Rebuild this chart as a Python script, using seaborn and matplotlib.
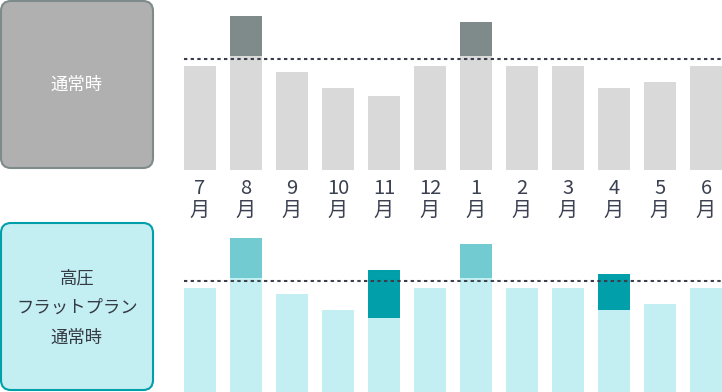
import matplotlib
matplotlib.use("Agg")
import matplotlib.pyplot as plt
from matplotlib.patches import FancyBboxPatch
import seaborn as sns
import pandas as pd

# ---- data ----
months = ["7", "8", "9", "10", "11", "12", "1", "2", "3", "4", "5", "6"]
top_base = [104, 114, 98, 82, 74, 104, 114, 104, 104, 82, 88, 104]
top_peak = [0, 154, 0, 0, 0, 0, 148, 0, 0, 0, 0, 0]
bot_base = [104, 114, 98, 82, 74, 104, 114, 104, 104, 82, 88, 104]
bot_peak = [0, 154, 0, 0, 0, 0, 148, 0, 0, 0, 0, 0]
bot_shift = [0, 0, 0, 0, 122, 0, 0, 0, 0, 118, 0, 0]
threshold_top = 111
threshold_bot = 111
top_label = "通常時"
bot_label = ["高圧", "フラットプラン", "通常時"]

sns.set_theme(style="white")
plt.rcParams["font.family"] = ["Noto Sans CJK JP", "DejaVu Sans"]

W, H = 722, 392
fig = plt.figure(figsize=(W / 100, H / 100), dpi=100)

# overlay axes in pixel units for the side panels
ov = fig.add_axes([0, 0, 1, 1])
ov.set_xlim(0, W)
ov.set_ylim(H, 0)
ov.axis("off")

ov.add_patch(FancyBboxPatch((1, 1), 152, 167, boxstyle="round,pad=0,rounding_size=10",
                            facecolor="#b0b0b0", edgecolor="#7f8a8a", linewidth=1.5))
ov.text(77, 85, top_label, ha="center", va="center", color="white", fontsize=12.5)

ov.add_patch(FancyBboxPatch((1, 223), 152, 167, boxstyle="round,pad=0,rounding_size=10",
                            facecolor="#c4eff2", edgecolor="#00a0aa", linewidth=1.5))
for k, line in enumerate(bot_label):
    ov.text(77, 278 + 30 * k, line, ha="center", va="center", color="#343a44", fontsize=12.5)

bar_w = 32 / 46
first_center, pitch = 200, 46
x0 = -first_center / pitch
x1 = (W - first_center) / pitch

df_top = pd.DataFrame({"month": months, "base": top_base, "peak": top_peak})
df_bot = pd.DataFrame({"month": months, "base": bot_base, "peak": bot_peak, "shift": bot_shift})

def setup(ax):
    ax.set_xlim(x0, x1)
    ax.set_ylim(0, 170)
    ax.axis("off")
    ax.patch.set_alpha(0)

bar_kw = dict(width=bar_w, saturation=1, order=months, linewidth=0, edgecolor="none")

# top chart
axt = fig.add_axes([0, (H - 170) / H, 1, 170 / H])
sns.barplot(data=df_top, x="month", y="peak", color="#7f8b8b", ax=axt, **bar_kw)
sns.barplot(data=df_top, x="month", y="base", color="#d9d9d9", ax=axt, **bar_kw)
setup(axt)
axt.hlines(threshold_top, -bar_w / 2, x1, colors="#3a3d4a", linewidth=1.5,
           linestyles=(0, (1.6, 1.6)), zorder=5)

# month labels
for i, m in enumerate(months):
    axt.text(i, -18, m, ha="center", va="center", fontsize=14.5, color="#3b4150", clip_on=False)
    axt.text(i, -40, "月", ha="center", va="center", fontsize=14.5, color="#3b4150", clip_on=False)

# bottom chart
axb = fig.add_axes([0, 0, 1, 170 / H])
sns.barplot(data=df_bot, x="month", y="peak", color="#72cbd0", ax=axb, **bar_kw)
sns.barplot(data=df_bot, x="month", y="shift", color="#009faa", ax=axb, **bar_kw)
sns.barplot(data=df_bot, x="month", y="base", color="#c4eff2", ax=axb, **bar_kw)
setup(axb)
axb.hlines(threshold_bot, -bar_w / 2, x1, colors="#3a3d4a", linewidth=1.5,
           linestyles=(0, (1.6, 1.6)), zorder=5)

fig.savefig("out.png", dpi=100)
